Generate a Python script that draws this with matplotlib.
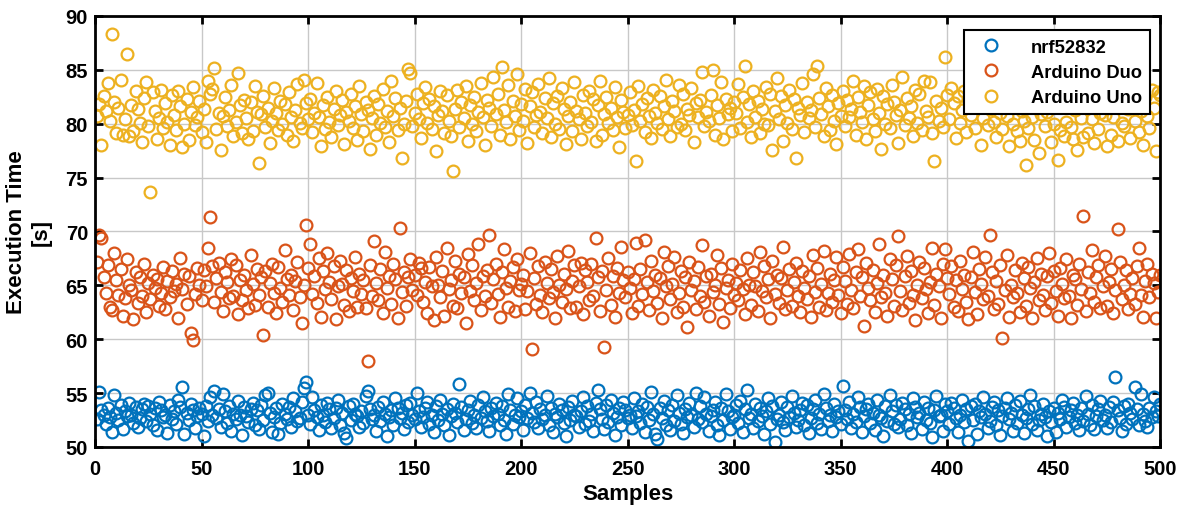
import numpy as np
import matplotlib.pyplot as plt

# execution times (samples 1..500)
nrf52832 = [float(v) for v in """
52.6 55.1 53.4 53.0 52.1 53.6 52.8 51.4 54.8 53.2 52.5 53.9 51.7 53.3 52.9 54.1 53.0 52.2 53.7 51.9 52.7 53.5 54.0 52.4 53.8 53.1 52.0 53.6 51.6 54.2 53.4 52.8 53.0 51.3 53.9 52.6 53.3 52.1 54.4 53.7 55.6 51.2 53.2 52.5 54.0 53.4 51.8 52.9 53.6 53.1
51.0 53.8 52.4 54.6 53.0 55.2 52.7 53.5 51.9 54.9 53.3 52.2 53.8 51.5 53.1 52.6 54.3 53.0 51.1 53.7 52.9 52.3 53.5 54.1 52.0 53.4 51.7 53.9 52.5 54.8 55.0 53.2 51.4 52.8 53.6 51.2 52.2 54.0 53.1 52.6 53.7 51.9 54.5 53.3 52.4 52.7 54.2 55.5 56.0 53.0
52.1 54.6 53.4 52.8 51.6 53.9 53.0 52.3 54.1 53.5 51.8 52.7 53.6 54.4 52.0 53.2 51.3 50.8 53.8 52.5 54.0 53.1 52.9 51.9 53.3 52.2 54.7 55.2 53.5 52.6 53.0 51.5 53.7 52.4 54.2 53.1 51.0 52.8 53.4 52.0 54.5 53.6 52.7 53.2 51.7 53.9 52.3 54.1 53.0 52.6
55.0 53.3 51.9 52.8 53.6 54.2 52.1 53.0 51.4 53.8 52.5 54.4 53.1 52.0 53.5 51.1 52.9 54.0 53.2 52.3 55.8 53.7 51.6 52.6 53.4 54.3 52.2 53.0 51.8 53.9 52.7 54.6 53.3 52.4 51.5 53.6 52.9 54.1 53.1 52.0 53.8 52.5 51.2 54.9 53.4 52.1 53.0 54.5 52.8 53.3
51.6 53.9 52.7 55.0 53.2 52.3 54.2 51.8 53.5 52.6 53.0 54.7 52.0 53.6 51.4 53.1 52.8 54.0 53.4 52.2 51.0 53.7 52.5 54.3 53.0 52.9 51.9 53.3 54.6 52.1 53.8 52.4 53.1 51.5 54.1 55.3 53.5 52.6 51.7 53.9 52.3 54.4 53.2 51.1 52.8 53.6 52.0 54.2 53.4 52.7
53.0 51.8 54.5 52.9 53.3 52.2 54.0 51.4 53.7 52.5 55.1 53.1 51.2 50.7 53.6 52.7 54.3 52.0 53.4 51.6 53.9 52.4 54.8 53.2 52.1 51.3 53.5 52.8 54.1 53.0 51.9 55.0 52.6 53.8 52.3 54.6 53.1 51.5 52.9 53.4 54.2 52.0 51.1 53.6 52.5 54.9 53.3 51.7 52.8 53.0
53.9 52.2 54.3 51.4 53.5 55.3 52.7 53.1 51.8 54.0 52.4 53.6 52.9 51.2 53.3 54.5 52.1 53.8 50.5 52.6 53.0 54.2 52.3 51.6 53.7 52.8 54.7 53.2 51.9 52.5 53.4 54.1 52.0 53.9 51.3 52.7 53.5 54.4 52.2 53.1 51.7 54.9 53.6 52.4 53.0 51.5 54.0 52.8 53.3 52.1
55.7 53.4 52.6 54.2 51.8 53.1 52.3 54.6 53.7 51.4 52.9 53.5 54.0 52.2 53.2 51.6 54.4 53.0 52.7 51.0 53.8 52.4 54.8 53.3 52.1 53.9 51.9 52.6 54.1 53.5 52.0 53.1 51.3 54.5 53.7 52.8 53.2 51.7 54.2 52.5 53.6 52.2 50.9 53.4 54.7 52.9 53.0 51.5 54.0 53.3
52.1 54.1 53.6 52.7 51.4 53.0 54.4 52.3 53.5 50.6 53.8 52.5 54.0 51.2 53.3 52.8 54.6 53.1 51.8 52.4 53.7 54.2 52.0 53.4 51.1 52.9 53.6 54.5 52.6 53.2 51.5 53.9 52.2 54.3 53.0 51.3 52.7 53.5 54.8 52.1 53.8 51.6 52.5 53.1 54.0 52.8 51.0 53.3 52.3 53.6
51.4 53.2 52.6 54.4 53.7 51.9 52.8 53.4 54.1 52.2 53.0 51.6 53.6 52.4 54.7 53.1 52.0 53.9 51.7 52.9 53.5 54.3 52.5 53.0 51.8 53.7 52.3 54.2 56.5 53.4 52.7 51.5 53.8 52.1 54.0 53.2 52.6 55.6 53.5 52.0 54.9 53.1 52.4 51.9 53.6 52.8 54.6 53.3 52.9 54.0
""".split()]

arduino_duo = [float(v) for v in """
67.2 69.7 69.4 65.8 64.3 66.9 63.0 62.7 68.0 65.5 64.1 66.5 62.2 63.8 67.4 65.0 64.6 61.9 66.2 63.4 65.8 64.0 67.0 62.5 65.2 63.7 66.0 64.8 65.6 63.1 64.3 66.7 62.8 65.4 63.9 66.3 64.5 65.1 62.0 67.5 64.7 66.1 63.3 65.9 60.6 59.9 64.2 66.6 65.0 63.6
66.4 64.9 68.5 71.3 66.8 63.5 65.7 67.1 64.4 62.6 66.2 65.3 63.8 67.4 64.0 66.9 62.3 65.5 63.6 66.0 64.6 62.9 67.8 65.1 63.2 66.5 64.1 65.8 60.4 66.3 63.0 65.2 67.0 64.3 62.4 66.7 64.8 63.5 68.3 65.6 64.1 66.0 62.7 65.4 67.2 63.9 61.5 65.0 70.6 66.6
68.8 64.2 65.9 63.4 67.5 62.1 66.3 64.7 68.0 65.3 63.7 66.8 61.9 64.9 67.3 65.1 63.2 66.4 62.6 65.7 64.5 67.6 63.0 66.1 64.2 65.5 62.9 58.0 66.9 64.0 69.1 65.2 63.6 66.5 62.4 68.1 64.8 65.9 63.3 67.0 65.6 62.0 70.3 64.4 66.2 63.1 65.8 67.4 64.6 66.0
64.1 67.1 66.6 63.5 65.3 62.4 66.7 64.9 61.8 67.6 65.0 63.9 66.3 62.2 68.5 64.7 65.5 63.1 67.3 62.9 66.1 64.3 65.8 61.5 67.9 64.5 66.9 63.6 65.2 68.8 62.7 65.9 64.0 66.4 69.7 63.4 65.6 67.0 64.2 62.1 66.2 68.4 64.8 63.0 65.4 66.7 62.6 67.4 64.6 65.1
66.0 62.8 64.5 68.0 59.1 65.7 63.3 66.8 64.1 62.5 67.2 65.2 63.8 66.5 64.4 62.0 67.7 65.0 63.5 66.1 64.7 68.2 62.9 65.4 66.9 63.0 64.9 67.1 62.3 66.4 65.3 63.6 67.0 64.0 69.4 65.8 62.6 66.3 59.3 64.6 67.5 63.2 65.9 62.1 66.6 64.3 68.6 65.5 63.9 66.2
64.8 62.4 65.6 68.9 63.1 66.5 64.2 69.2 65.3 62.7 67.3 64.5 66.0 63.4 65.7 62.0 68.1 64.9 66.8 63.7 65.1 67.6 62.5 64.3 66.3 63.0 65.8 61.1 67.2 64.6 65.4 62.8 66.7 64.0 68.7 63.5 65.9 62.2 66.1 64.4 65.0 67.8 63.3 66.6 61.6 64.8 65.5 62.9 67.0 64.1
65.2 63.6 66.4 64.7 62.3 67.5 65.0 63.2 66.2 64.9 62.6 68.1 64.5 66.8 63.9 65.6 62.0 67.3 64.2 66.0 63.4 65.7 68.6 62.8 64.6 66.5 63.1 65.3 67.1 64.0 62.5 66.3 64.8 63.7 65.9 62.1 67.8 64.4 66.6 63.0 65.1 68.2 62.7 64.3 66.1 63.5 65.5 67.6 64.1 62.4
66.7 65.4 63.3 67.9 64.6 62.9 66.2 68.4 64.0 65.8 61.2 67.1 64.8 63.6 66.4 62.5 65.2 68.8 63.9 66.0 64.3 62.2 67.4 65.6 63.1 66.9 69.6 64.5 62.7 65.9 67.7 63.4 66.3 64.1 61.8 65.0 67.2 63.8 66.6 64.7 62.4 65.3 68.5 63.2 66.1 64.9 62.0 67.0 68.4 65.7
64.2 66.8 63.0 65.5 62.6 67.3 64.7 66.0 63.5 61.9 65.8 68.1 64.4 62.3 66.5 65.1 63.7 67.6 64.0 69.7 66.2 62.8 65.4 63.3 66.9 60.1 64.6 67.8 62.1 65.0 63.9 66.4 64.3 62.5 67.1 65.7 63.1 66.7 64.8 62.0 65.3 67.5 63.6 66.1 64.1 62.7 65.9 68.0 63.4 66.3
64.5 62.2 66.6 65.1 63.8 67.4 64.0 62.0 66.0 65.6 63.2 67.0 64.7 71.4 62.6 66.2 64.3 68.3 63.5 65.8 66.9 62.9 64.9 67.7 63.1 65.3 66.5 62.4 64.6 70.2 67.2 63.7 65.0 66.4 62.8 64.2 65.7 63.3 66.8 68.5 64.1 62.1 65.4 67.0 63.9 66.1 65.2 62.0 64.4 66.0
""".split()]

arduino_uno = [float(v) for v in """
80.7 81.8 78.0 82.6 81.2 83.8 80.3 88.3 82.0 79.1 81.5 84.1 79.0 80.4 86.5 78.9 81.7 79.3 83.0 81.4 80.1 78.3 82.4 83.9 79.8 73.7 82.9 81.2 78.6 80.5 83.1 79.6 81.9 80.2 78.0 82.7 80.8 79.4 83.0 81.6 77.8 80.0 82.3 78.5 81.1 83.4 79.9 80.6 82.1 79.2
81.4 78.3 84.0 82.8 83.2 85.2 79.5 81.0 77.6 80.7 82.5 79.8 81.3 83.6 78.9 80.2 84.7 81.7 79.1 82.2 80.5 78.6 82.0 79.3 83.5 81.1 76.4 80.9 82.6 79.7 81.5 78.2 80.3 83.3 81.0 79.4 82.1 80.0 81.8 79.0 82.9 80.6 78.4 81.3 83.7 80.1 79.6 84.1 81.9 80.4
82.3 79.2 81.0 83.8 80.6 77.9 81.7 79.5 82.5 80.2 78.8 81.4 83.0 79.9 80.8 82.2 78.1 81.1 80.3 82.8 79.6 81.6 78.5 83.5 80.9 79.3 82.0 81.3 77.7 80.5 82.6 79.0 81.8 80.1 83.2 79.7 81.2 78.3 84.0 80.7 82.4 79.4 81.5 76.8 80.0 82.1 85.1 84.7 79.8 81.0
82.8 80.4 78.7 81.9 83.4 80.1 82.3 79.5 81.6 77.5 80.8 83.0 81.2 79.1 82.7 80.3 78.9 75.6 81.4 83.1 79.7 82.0 80.5 83.5 78.4 81.7 80.0 82.5 79.3 81.1 83.8 80.6 78.0 82.2 81.5 79.8 84.3 80.9 82.8 79.0 85.3 81.3 80.2 83.6 78.6 82.1 80.7 84.6 79.4 81.8
80.3 83.2 78.2 81.6 82.9 79.7 80.8 83.7 81.1 79.1 82.4 80.5 84.2 78.8 81.9 80.0 82.6 79.5 83.3 81.4 78.1 80.7 82.0 79.3 83.9 81.2 80.4 78.6 82.7 81.0 79.8 83.0 80.2 82.3 78.4 81.7 84.0 79.0 80.9 82.5 80.1 81.5 79.4 83.4 80.6 77.8 82.2 81.1 79.6 80.8
82.9 79.9 81.3 76.5 83.5 80.3 81.8 79.2 82.4 80.7 78.7 83.1 81.0 80.1 82.6 79.5 81.6 84.1 80.4 78.9 82.1 81.2 79.7 83.6 80.0 82.8 79.4 81.4 80.8 83.3 78.3 81.9 80.6 82.2 84.8 79.8 81.1 80.3 82.7 85.0 79.0 81.7 80.5 83.9 78.6 82.3 80.9 81.5 79.3 82.0
81.0 83.7 79.6 82.5 85.4 80.2 81.8 78.8 83.0 80.6 82.1 79.1 81.4 80.0 83.4 79.9 82.8 77.6 81.2 84.2 80.4 82.6 78.4 81.7 80.1 83.1 79.5 82.3 76.8 81.5 80.8 83.8 79.2 82.0 80.5 81.3 84.6 79.7 85.4 82.4 80.9 78.9 83.3 81.6 79.4 82.7 80.3 78.1 81.9 80.7
83.0 79.8 82.2 80.6 81.4 84.0 79.0 82.5 81.1 80.2 83.5 78.6 81.7 82.9 80.4 79.3 83.2 81.0 77.7 82.6 80.0 81.8 79.6 83.6 82.0 80.8 78.2 81.3 84.3 79.9 82.4 80.5 81.6 78.9 83.1 80.1 82.8 79.4 84.0 81.2 80.6 83.9 79.1 76.5 82.1 80.3 81.5 79.7 86.2 82.7
80.4 83.3 81.9 78.7 82.6 80.1 81.3 83.0 79.2 82.3 80.8 84.0 79.6 81.7 83.4 78.0 80.5 82.1 79.9 81.4 83.7 80.2 78.8 82.5 81.0 79.5 83.1 80.7 77.9 81.8 80.0 82.9 79.3 78.4 81.2 80.3 76.2 79.6 82.4 80.6 78.5 81.5 77.3 80.9 82.2 79.8 81.1 83.2 78.3 80.0
81.6 76.6 79.4 82.7 78.9 80.2 83.5 79.7 78.6 81.3 77.6 82.1 80.5 78.8 83.0 79.1 81.9 80.4 78.2 82.6 79.5 81.0 83.7 80.8 77.9 82.3 79.0 80.6 81.7 78.4 83.3 80.1 79.8 82.8 81.4 78.7 83.9 80.3 82.0 79.2 81.2 78.0 82.5 80.7 79.6 83.1 81.5 77.5 82.9 82.7
""".split()]

series = [("nrf52832", nrf52832, "#0072BD"),
          ("Arduino Duo", arduino_duo, "#D95319"),
          ("Arduino Uno", arduino_uno, "#EDB120")]

plt.rcParams['font.family'] = ['Liberation Sans', 'DejaVu Sans']
plt.rcParams['font.weight'] = 'bold'

fig = plt.figure(figsize=(11.79, 5.10), dpi=100)
ax = fig.add_axes([0.0806, 0.1216, 0.9034, 0.8451])

for name, vals, color in series:
    x = np.arange(1, len(vals) + 1)
    ax.plot(x, vals, linestyle='none', marker='o', markersize=8.5,
            markerfacecolor='none', markeredgecolor=color, markeredgewidth=1.6,
            label=name)

ax.set_xlim(0, 500)
ax.set_ylim(50, 90)
ax.set_xticks(np.arange(0, 501, 50))
ax.set_yticks(np.arange(50, 91, 5))
ax.grid(True, color='#c8c8c8', linewidth=1.0)
ax.set_axisbelow(True)
for s in ax.spines.values():
    s.set_linewidth(2)
ax.tick_params(direction='in', length=6, width=2, top=True, right=True,
               labelsize=14.5)
ax.tick_params(axis='x', pad=9)
ax.tick_params(axis='y', pad=5)
for lbl in ax.get_xticklabels() + ax.get_yticklabels():
    lbl.set_fontweight('bold')

ax.set_xlabel('Samples', fontsize=16, fontweight='bold', labelpad=3)
ax.set_ylabel('Execution Time\n[s]', fontsize=16, fontweight='bold', labelpad=10)

leg = ax.legend(loc='upper right', fontsize=13.2, frameon=True, fancybox=False,
                edgecolor='black', framealpha=1, borderpad=0.45,
                handletextpad=1.2, labelspacing=0.45,
                bbox_to_anchor=(0.9995, 0.988))
leg.get_frame().set_linewidth(1.5)
for t in leg.get_texts():
    t.set_fontweight('bold')

plt.savefig('out.png', dpi=100)
